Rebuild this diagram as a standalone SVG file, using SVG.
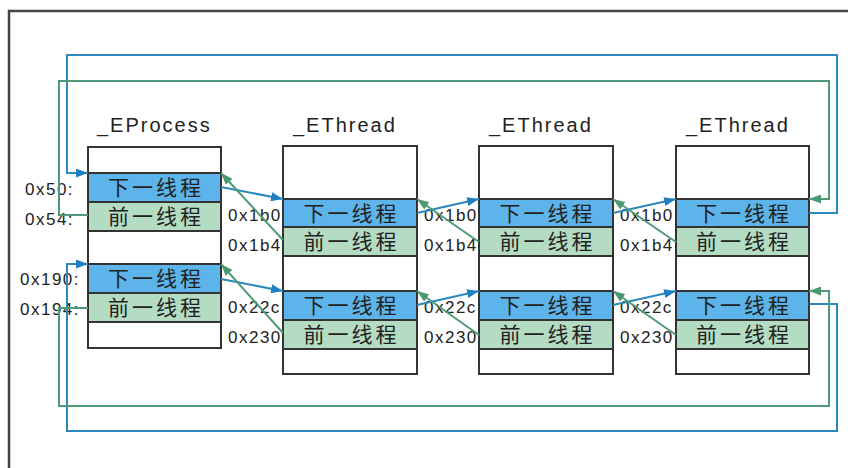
<svg xmlns="http://www.w3.org/2000/svg" width="848" height="468" viewBox="0 0 848 468">
<style>
.frame{fill:none;stroke:#444;stroke-width:2.5}
.box{fill:#fff;stroke:#333;stroke-width:2}
.nx{fill:#5cb4ea;stroke:#333;stroke-width:2}
.pv{fill:#b4dcc3;stroke:#333;stroke-width:2}
.title{font-family:"Liberation Sans",Arial,sans-serif;font-size:20px;letter-spacing:2px;fill:#222}
.cell{font-family:"Noto Sans CJK SC","Noto Sans",sans-serif;font-size:21px;letter-spacing:3px;fill:#222;text-anchor:middle}
.lab{font-family:"Liberation Sans",Arial,sans-serif;font-size:17px;letter-spacing:1.5px;fill:#222}
.bl{fill:none;stroke:#2b88bd;stroke-width:2;marker-end:url(#ab)}
.gr{fill:none;stroke:#4f9a78;stroke-width:2;marker-end:url(#ag)}
</style>
<defs>
<marker id="ab" markerUnits="userSpaceOnUse" markerWidth="12" markerHeight="9" refX="12" refY="4.5" orient="auto"><path d="M0,0 L12,4.5 L0,9 z" fill="#1f7fbf"/></marker>
<marker id="ag" markerUnits="userSpaceOnUse" markerWidth="12" markerHeight="9" refX="12" refY="4.5" orient="auto"><path d="M0,0 L12,4.5 L0,9 z" fill="#4a9872"/></marker>
</defs>
<rect width="848" height="468" fill="#fff"/>
<path class="frame" d="M9,468 L9,11 L848,11"/>

<g id="eprocess">
<text class="title" x="97" y="132">_EProcess</text>
<rect class="box" x="88" y="147" width="133" height="201"/>
<rect class="nx" x="88" y="173" width="133" height="29"/>
<rect class="pv" x="88" y="202" width="133" height="29"/>
<rect class="nx" x="88" y="264" width="133" height="29"/>
<rect class="pv" x="88" y="293" width="133" height="29"/>
<text class="cell" x="156" y="195">下一线程</text>
<text class="cell" x="156" y="224">前一线程</text>
<text class="cell" x="156" y="286">下一线程</text>
<text class="cell" x="156" y="315">前一线程</text>
<text class="lab" x="25" y="195">0x50:</text>
<text class="lab" x="25" y="225">0x54:</text>
<text class="lab" x="20" y="285">0x190:</text>
<text class="lab" x="20" y="315">0x194:</text>
</g>

<g id="ethread1">
<text class="title" x="293" y="132">_EThread</text>
<rect class="box" x="283" y="146" width="134" height="228"/>
<rect class="nx" x="283" y="199" width="134" height="28"/>
<rect class="pv" x="283" y="227" width="134" height="29"/>
<rect class="nx" x="283" y="291" width="134" height="29"/>
<rect class="pv" x="283" y="320" width="134" height="29"/>
<text class="cell" x="351.5" y="221">下一线程</text>
<text class="cell" x="351.5" y="249">前一线程</text>
<text class="cell" x="351.5" y="313">下一线程</text>
<text class="cell" x="351.5" y="342">前一线程</text>
<text class="lab" x="228" y="221">0x1b0</text>
<text class="lab" x="228" y="251">0x1b4</text>
<text class="lab" x="228" y="313">0x22c</text>
<text class="lab" x="228" y="343">0x230</text>
</g>

<g id="ethread2">
<text class="title" x="489" y="132">_EThread</text>
<rect class="box" x="479" y="146" width="134" height="228"/>
<rect class="nx" x="479" y="199" width="134" height="28"/>
<rect class="pv" x="479" y="227" width="134" height="29"/>
<rect class="nx" x="479" y="291" width="134" height="29"/>
<rect class="pv" x="479" y="320" width="134" height="29"/>
<text class="cell" x="547.5" y="221">下一线程</text>
<text class="cell" x="547.5" y="249">前一线程</text>
<text class="cell" x="547.5" y="313">下一线程</text>
<text class="cell" x="547.5" y="342">前一线程</text>
<text class="lab" x="424" y="221">0x1b0</text>
<text class="lab" x="424" y="251">0x1b4</text>
<text class="lab" x="424" y="313">0x22c</text>
<text class="lab" x="424" y="343">0x230</text>
</g>

<g id="ethread3">
<text class="title" x="686" y="132">_EThread</text>
<rect class="box" x="676" y="146" width="133" height="228"/>
<rect class="nx" x="676" y="199" width="133" height="28"/>
<rect class="pv" x="676" y="227" width="133" height="29"/>
<rect class="nx" x="676" y="291" width="133" height="29"/>
<rect class="pv" x="676" y="320" width="133" height="29"/>
<text class="cell" x="744" y="221">下一线程</text>
<text class="cell" x="744" y="249">前一线程</text>
<text class="cell" x="744" y="313">下一线程</text>
<text class="cell" x="744" y="342">前一线程</text>
<text class="lab" x="620" y="221">0x1b0</text>
<text class="lab" x="620" y="251">0x1b4</text>
<text class="lab" x="620" y="313">0x22c</text>
<text class="lab" x="620" y="343">0x230</text>
</g>

<g id="connectors">
<path class="bl" d="M809,213 H837 V55 H67 V173 H88"/>
<path class="gr" d="M88,215 H59 V81 H829 V199 H809"/>
<path class="bl" d="M809,304 H837 V431 H67 V264 H88"/>
<path class="gr" d="M88,308 H59 V406 H829 V291 H809"/>
<path class="bl" d="M221,187 L283,199"/>
<path class="gr" d="M283,240 L221,173"/>
<path class="bl" d="M417,213 L479,199"/>
<path class="gr" d="M479,242 L417,199"/>
<path class="bl" d="M613,213 L676,199"/>
<path class="gr" d="M676,242 L613,199"/>
<path class="bl" d="M221,279 L283,291"/>
<path class="gr" d="M283,333 L221,264"/>
<path class="bl" d="M417,305 L479,291"/>
<path class="gr" d="M479,335 L417,291"/>
<path class="bl" d="M613,305 L676,291"/>
<path class="gr" d="M676,335 L613,291"/>
</g>
</svg>
